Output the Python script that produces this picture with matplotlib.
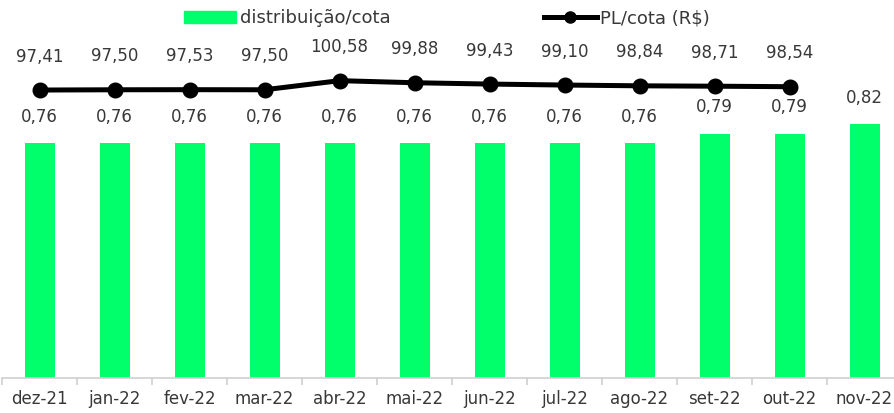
import numpy as np
import matplotlib; matplotlib.use("Agg")
import matplotlib.pyplot as plt
from matplotlib.patches import Patch
from matplotlib.lines import Line2D

months = ["dez-21", "jan-22", "fev-22", "mar-22", "abr-22", "mai-22",
          "jun-22", "jul-22", "ago-22", "set-22", "out-22", "nov-22"]
distrib = [0.76, 0.76, 0.76, 0.76, 0.76, 0.76, 0.76, 0.76, 0.76, 0.79, 0.79, 0.82]
pl_cota = [97.41, 97.50, 97.53, 97.50, 100.58, 99.88, 99.43, 99.10, 98.84, 98.71, 98.54]

GREEN = "#00ff6a"
TXT = "#383838"
br = lambda v: f"{v:.2f}".replace(".", ",")

fig = plt.figure(figsize=(8.94, 4.13), dpi=100)
ax = fig.add_axes([2 / 894, 35 / 413, 900 / 894, 371 / 413])
x = np.arange(len(months))

# bars: distribuicao/cota
ax.bar(x, distrib, 0.4, color=GREEN, zorder=2)
for xi, v in zip(x, distrib):
    ax.annotate(br(v), (xi, v), xytext=(0, 19), textcoords="offset points",
                ha="center", va="center", fontsize=12, color=TXT)
ax.set_xlim(-0.5, len(months) - 0.5)
ax.set_ylim(0, 1.2)
ax.set_yticks([])
for s in ("top", "right", "left"):
    ax.spines[s].set_visible(False)
ax.spines["bottom"].set_color("#d0d0d0")
ax.spines["bottom"].set_linewidth(1.2)
# ticks at category boundaries, labels at centres
ax.set_xticks(np.arange(len(months) + 1) - 0.5)
ax.set_xticklabels([])
ax.tick_params(axis="x", which="major", length=5, color="#d0d0d0", width=1.2)
ax.set_xticks(x, minor=True)
ax.set_xticklabels(months, minor=True, fontsize=12, color=TXT)
ax.tick_params(axis="x", which="minor", length=0, pad=9)

# line: PL/cota on its own scale
ax2 = ax.twinx()
xl = x[:len(pl_cota)]
ax2.plot(xl, pl_cota, color="black", lw=3.6, marker="o", markersize=10.5, zorder=3)
for xi, v in zip(xl, pl_cota):
    ax2.annotate(br(v), (xi, v), xytext=(0, 24), textcoords="offset points",
                 ha="center", va="center", fontsize=12, color=TXT)
ax2.set_ylim(0, 125.5)
ax2.set_yticks([])
for s in ax2.spines.values():
    s.set_visible(False)

handles = [Patch(color=GREEN, label="distribuição/cota"),
           Line2D([], [], color="black", lw=3.6, marker="o", markersize=8, label="PL/cota (R$)")]
fig.legend(handles=handles, loc="center", bbox_to_anchor=(0.5, 0.956), ncol=2,
           frameon=False, fontsize=13, handlelength=2.9, handleheight=0.7,
           handletextpad=0.2, columnspacing=8.5, labelcolor=TXT)

fig.savefig("out.png", dpi=100)
